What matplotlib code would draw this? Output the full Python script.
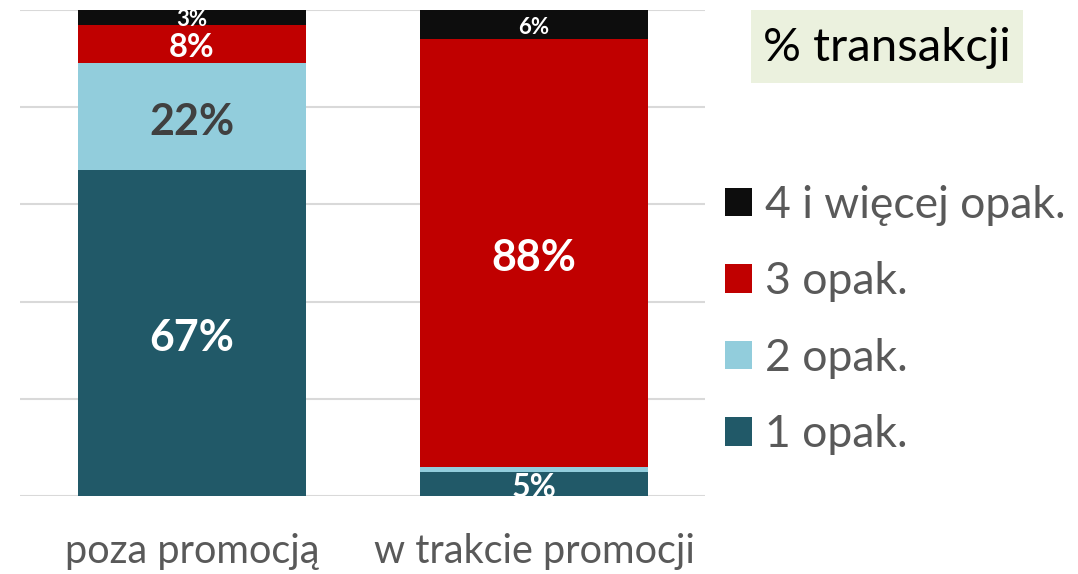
import matplotlib
matplotlib.use("Agg")
import matplotlib.pyplot as plt
from matplotlib.patches import Rectangle
import numpy as np

plt.rcParams['font.family'] = ['Lato', 'DejaVu Sans']

categories = ["poza promocją", "w trakcie promocji"]
series_names = ["1 opak.", "2 opak.", "3 opak.", "4 i więcej opak."]
val_1 = [67, 5]
val_2 = [22, 1]
val_3 = [8, 88]
val_4 = [3, 6]
label_1 = ["67%", "5%"]
label_2 = ["22%", ""]
label_3 = ["8%", "88%"]
label_4 = ["3%", "6%"]
title_text = "% transakcji"

colors = ["#215968", "#92CDDC", "#C00000", "#0D0D0D"]
label_colors = ["white", "#404040", "white", "white"]
label_sizes = [[31, 23], [31, 23], [23.5, 31], [16, 16]]

W, H = 1078, 574
fig = plt.figure(figsize=(W / 100, H / 100), dpi=100)
ax = fig.add_axes([20 / W, (H - 496) / H, 685 / W, 486 / H])

x = np.arange(len(categories))
series = [val_1, val_2, val_3, val_4]
labels = [label_1, label_2, label_3, label_4]
bottom = np.zeros(len(categories))
handles = []
for vals, name, col, labs, lc, ls in zip(series, series_names, colors, labels, label_colors, label_sizes):
    vals = np.array(vals, dtype=float)
    b = ax.bar(x, vals, width=0.667, bottom=bottom, color=col, label=name, zorder=3)
    handles.append(b)
    for xi, v, bt, lab, fs in zip(x, vals, bottom, labs, ls):
        if lab:
            ax.annotate(lab, (xi, bt + v / 2), xytext=(0, -fs * 0.12), textcoords="offset points",
                        ha="center", va="center", color=lc,
                        fontsize=fs, fontweight="bold", zorder=4, annotation_clip=False,
                        clip_on=True)
    bottom += vals

ax.set_xlim(-0.503, 1.5)
ax.set_ylim(0, 100)
ax.set_yticks(np.arange(0, 101, 20))
ax.yaxis.grid(True, color="#D9D9D9", linewidth=1.5, zorder=0)
ax.set_yticklabels([])
ax.tick_params(axis="y", length=0)
ax.set_xticks(x)
ax.set_xticklabels(categories, fontsize=28.5, color="#595959")
ax.tick_params(axis="x", length=0, pad=27)
for s in ax.spines.values():
    s.set_visible(False)

leg = ax.legend(handles=handles[::-1], loc="center left",
                bbox_to_anchor=(725 / W, 1 - 320 / H), bbox_transform=fig.transFigure,
                frameon=False, fontsize=32, handlelength=0.61, handleheight=0.61,
                handletextpad=0.3, labelspacing=0.8, borderaxespad=0, borderpad=0)
for t in leg.get_texts():
    t.set_color("#595959")

fig.patches.append(Rectangle((751 / W, 1 - 83 / H), 272 / W, 73 / H,
                             transform=fig.transFigure, facecolor="#EBF1DE",
                             edgecolor="none", zorder=0))
fig.text(887 / W, 1 - 48 / H, title_text, ha="center", va="center", fontsize=34,
         color="black")

fig.savefig("out.png", dpi=100)
